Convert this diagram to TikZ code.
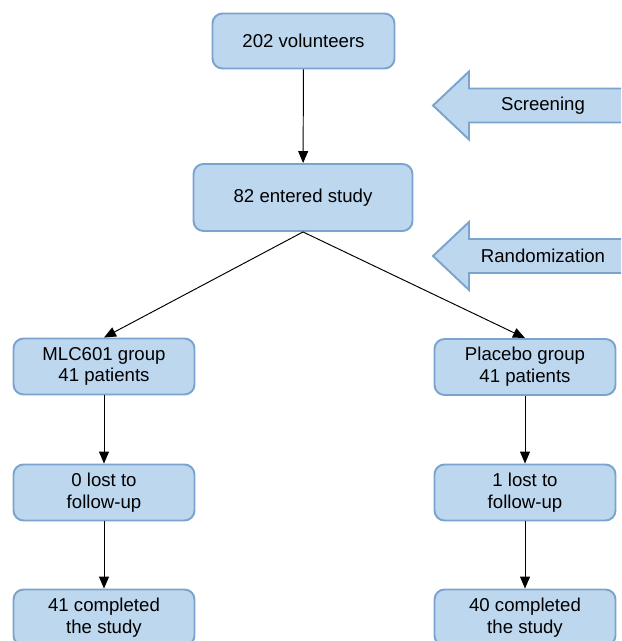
\documentclass[tikz,border=0pt]{standalone}
\usepackage{fontspec}
\setmainfont{Liberation Sans}
\usetikzlibrary{arrows.meta}

\definecolor{boxfill}{RGB}{189,215,238}
\definecolor{boxline}{RGB}{122,164,206}

\tikzset{
  box/.style={draw=boxline, fill=boxfill, line width=1.1pt, rounded corners=0.2cm,
    minimum width=3.62cm, minimum height=1.12cm, inner sep=0pt, align=center,
    font=\fontsize{10.6}{12.4}\selectfont},
  flow/.style={line width=0.55pt, -{Triangle[length=0.24cm,width=0.2cm]}},
  bigarrow/.style={draw=boxline, fill=boxfill, line width=1.1pt}
}

\begin{document}
\begin{tikzpicture}[x=0.02cm, y=-0.02cm]
    % Fix the page size and cut off what runs past it
    \useasboundingbox (0,0) rectangle (621,641);
    \clip (0,0) rectangle (621,641);

    % Draw the block arrows on the right side with their labels
    \foreach \cy/\txt in {105.5/Screening, 256/Randomization} {
      \draw[bigarrow] (433,\cy) -- (469,\cy-34) -- (469,\cy-17) -- (660,\cy-17)
        -- (660,\cy+17) -- (469,\cy+17) -- (469,\cy+34) -- cycle;
      \node[font=\fontsize{10.6}{12.4}\selectfont] at (543,\cy) {\txt};
    }

    % Top of the chart
    \node[box, minimum width=3.64cm, minimum height=1.1cm] (vol) at (303.5,41) {202 volunteers};
    \node[box, minimum width=4.38cm, minimum height=1.34cm] (entered) at (303,197.5) {82 entered study};

    % Left branch
    \node[box] (mlc) at (104,366.5) {MLC601 group\\41 patients};
    \node[box] (mlclost) at (104,492.5) {0 lost to\\follow-up};
    \node[box] (mlcdone) at (104,617.5) {41 completed\\the study};

    % Right branch
    \node[box] (pla) at (525,367) {Placebo group\\41 patients};
    \node[box] (plalost) at (525,492.5) {1 lost to\\follow-up};
    \node[box] (pladone) at (525,617.5) {40 completed\\the study};

    % Connect the boxes
    \draw[flow] (vol) -- (entered);
    \draw[flow] (entered.south) -- (mlc.north);
    \draw[flow] (entered.south) -- (pla.north);
    \draw[flow] (mlc) -- (mlclost);
    \draw[flow] (mlclost) -- (mlcdone);
    \draw[flow] (pla) -- (plalost);
    \draw[flow] (plalost) -- (pladone);
\end{tikzpicture}
\end{document}
